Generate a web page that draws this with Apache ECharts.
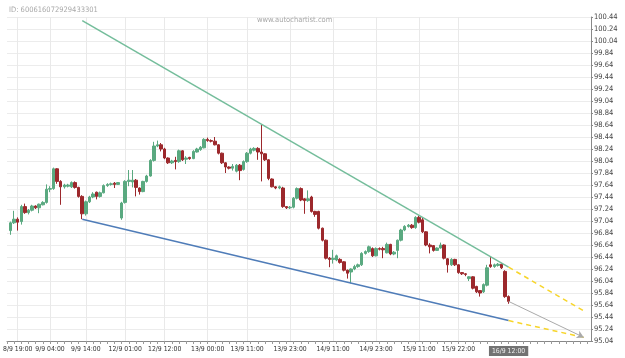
<!DOCTYPE html>
<html>
<head>
<meta charset="utf-8">
<script src="https://cdn.jsdelivr.net/npm/echarts@6/dist/echarts.min.js"></script>
<style>
html, body { margin: 0; padding: 0; background: #fff; }
#chart { width: 625px; height: 358px; }
</style>
</head>
<body>
<div id="chart"></div>
<script>
// trading hours on the axis: [day, first hour, last hour] (month 9, weekend skipped)
var sessions = [[8, 16, 23], [9, 0, 23], [12, 0, 23], [13, 0, 23], [14, 0, 23], [15, 0, 23], [16, 0, 23], [17, 0, 11]];
var firstCandle = '8/9 17:00';

// hourly candles, [open, close, low, high]
var candles = [
  [96.88, 97.01, 96.81, 97.03], [97.01, 97.07, 96.99, 97.21], [97.07, 97.02, 96.88, 97.10], [97.03, 97.28, 96.98, 97.31],
  [97.28, 97.18, 97.16, 97.33], [97.18, 97.22, 97.15, 97.24], [97.22, 97.29, 97.20, 97.31], [97.29, 97.26, 97.24, 97.30],
  [97.26, 97.32, 97.17, 97.33], [97.31, 97.35, 97.30, 97.37], [97.35, 97.57, 97.33, 97.65], [97.57, 97.58, 97.52, 97.62],
  [97.58, 97.91, 97.56, 97.93], [97.91, 97.70, 97.66, 97.92], [97.70, 97.61, 97.31, 97.72], [97.61, 97.64, 97.58, 97.66],
  [97.62, 97.64, 97.60, 97.66], [97.61, 97.68, 97.59, 97.70], [97.68, 97.60, 97.58, 97.70], [97.60, 97.45, 97.43, 97.61],
  [97.45, 97.16, 97.07, 97.47], [97.16, 97.36, 97.13, 97.38], [97.36, 97.44, 97.34, 97.46], [97.44, 97.49, 97.42, 97.52],
  [97.52, 97.45, 97.40, 97.53], [97.45, 97.51, 97.43, 97.53], [97.51, 97.63, 97.50, 97.65], [97.63, 97.65, 97.61, 97.67],
  [97.65, 97.66, 97.63, 97.68], [97.67, 97.65, 97.59, 97.69], [97.65, 97.68, 97.64, 97.69], [97.09, 97.34, 97.06, 97.36],
  [97.35, 97.70, 97.33, 97.72], [97.70, 97.72, 97.62, 97.89], [97.69, 97.72, 97.60, 97.89], [97.72, 97.60, 97.45, 97.74],
  [97.59, 97.53, 97.48, 97.60], [97.53, 97.70, 97.52, 97.71], [97.70, 97.79, 97.68, 97.81], [97.79, 98.05, 97.78, 98.07],
  [98.05, 98.29, 98.03, 98.36], [98.29, 98.31, 98.27, 98.38], [98.31, 98.24, 98.20, 98.34], [98.24, 98.09, 98.07, 98.26],
  [98.09, 98.01, 97.99, 98.10], [98.01, 98.04, 97.99, 98.06], [98.05, 98.03, 97.90, 98.11], [98.03, 98.21, 98.01, 98.23],
  [98.21, 98.06, 98.04, 98.22], [98.07, 98.09, 97.99, 98.12], [98.10, 98.08, 98.06, 98.11], [98.08, 98.20, 98.07, 98.22],
  [98.19, 98.24, 98.18, 98.26], [98.23, 98.27, 98.21, 98.29], [98.26, 98.40, 98.25, 98.42], [98.40, 98.38, 98.36, 98.43],
  [98.38, 98.37, 98.35, 98.40], [98.37, 98.31, 98.30, 98.44], [98.31, 98.17, 98.15, 98.32], [98.17, 98.01, 97.99, 98.18],
  [98.01, 97.94, 97.84, 98.02], [97.94, 97.92, 97.90, 97.95], [97.92, 97.95, 97.88, 97.99], [97.87, 97.97, 97.85, 97.99],
  [97.97, 97.88, 97.72, 97.99], [97.90, 98.03, 97.88, 98.05], [98.03, 98.17, 98.01, 98.19], [98.17, 98.24, 98.15, 98.26],
  [98.22, 98.25, 98.20, 98.27], [98.25, 98.19, 98.06, 98.27], [98.19, 98.16, 97.70, 98.64], [98.16, 98.06, 98.04, 98.17],
  [98.06, 97.75, 97.72, 98.07], [97.74, 97.61, 97.60, 97.75], [97.61, 97.59, 97.57, 97.62], [97.59, 97.61, 97.57, 97.63],
  [97.59, 97.28, 97.26, 97.61], [97.28, 97.26, 97.24, 97.29], [97.26, 97.27, 97.24, 97.29], [97.27, 97.42, 97.25, 97.44],
  [97.42, 97.58, 97.40, 97.60], [97.58, 97.39, 97.37, 97.60], [97.41, 97.38, 97.16, 97.42], [97.38, 97.41, 97.36, 97.55],
  [97.44, 97.20, 97.18, 97.46], [97.20, 97.15, 97.11, 97.21], [97.20, 96.92, 96.90, 97.21], [96.92, 96.72, 96.70, 96.93],
  [96.72, 96.42, 96.40, 96.73], [96.42, 96.40, 96.27, 96.44], [96.40, 96.42, 96.33, 96.56], [96.39, 96.46, 96.37, 96.48],
  [96.40, 96.35, 96.33, 96.42], [96.36, 96.22, 96.20, 96.37], [96.22, 96.17, 96.08, 96.23], [96.19, 96.24, 96.00, 96.25],
  [96.24, 96.28, 96.22, 96.31], [96.28, 96.31, 96.26, 96.33], [96.31, 96.50, 96.29, 96.52], [96.50, 96.53, 96.48, 96.55],
  [96.53, 96.61, 96.51, 96.63], [96.58, 96.46, 96.44, 96.60], [96.46, 96.58, 96.45, 96.60], [96.58, 96.57, 96.55, 96.60],
  [96.58, 96.56, 96.42, 96.61], [96.51, 96.65, 96.50, 96.68], [96.65, 96.49, 96.47, 96.66], [96.49, 96.52, 96.47, 96.54],
  [96.55, 96.72, 96.42, 96.73], [96.72, 96.89, 96.70, 96.91], [96.89, 96.95, 96.87, 96.97], [96.95, 96.97, 96.93, 96.99],
  [96.97, 96.93, 96.91, 96.99], [96.93, 97.10, 96.91, 97.12], [97.10, 97.02, 97.00, 97.13], [97.06, 96.86, 96.84, 97.10],
  [96.86, 96.64, 96.62, 96.87], [96.64, 96.61, 96.50, 96.67], [96.63, 96.55, 96.53, 96.64], [96.55, 96.59, 96.54, 96.60],
  [96.59, 96.64, 96.58, 96.68], [96.64, 96.42, 96.40, 96.65], [96.41, 96.31, 96.18, 96.42], [96.31, 96.40, 96.29, 96.42],
  [96.40, 96.31, 96.29, 96.41], [96.31, 96.18, 96.16, 96.32], [96.18, 96.16, 96.14, 96.19], [96.16, 96.15, 96.12, 96.17],
  [96.08, 96.11, 96.04, 96.12], [96.11, 95.92, 95.90, 96.12], [95.95, 95.86, 95.84, 95.96], [95.88, 95.84, 95.78, 95.89],
  [95.86, 95.98, 95.84, 96.00], [95.97, 96.26, 95.95, 96.31], [96.31, 96.28, 96.26, 96.44], [96.28, 96.31, 96.26, 96.33],
  [96.30, 96.32, 96.28, 96.34], [96.32, 96.26, 96.24, 96.33], [96.20, 95.78, 95.76, 96.22], [95.78, 95.70, 95.66, 95.80]
];

var xTickLabels = ['8/9 19:00', '9/9 04:00', '9/9 14:00', '12/9 01:00', '12/9 12:00', '13/9 00:00', '13/9 11:00',
  '13/9 23:00', '14/9 11:00', '14/9 23:00', '15/9 11:00', '15/9 22:00', '16/9 12:00'];
var nowLabel = '16/9 12:00';

var yTicks = [95.04, 95.24, 95.44, 95.64, 95.84, 96.04, 96.24, 96.44, 96.64, 96.84, 97.04, 97.24, 97.44, 97.64,
  97.84, 98.04, 98.24, 98.44, 98.64, 98.84, 99.04, 99.24, 99.44, 99.64, 99.84, 100.04, 100.24, 100.44];

// pattern lines: [time, price]
var resistance = [['9/9 13:00', 100.38], ['16/9 12:00', 96.27]];
var support = [['9/9 13:00', 97.07], ['16/9 12:00', 95.38]];
var resistanceProj = [['16/9 12:00', 96.27], ['17/9 09:00', 95.54]];
var supportProj = [['16/9 12:00', 95.38], ['17/9 09:00', 95.10]];
var forecast = [['16/9 12:00', 95.70], ['17/9 09:00', 95.10]];

var categories = [];
sessions.forEach(function (s) {
  for (var h = s[1]; h <= s[2]; h++) {
    categories.push(s[0] + '/9 ' + (h < 10 ? '0' : '') + h + ':00');
  }
});

var start = categories.indexOf(firstCandle);
var ohlc = categories.map(function (c, i) {
  var k = i - start;
  return (k >= 0 && k < candles.length) ? candles[k] : ['-', '-', '-', '-'];
});

function seg(pts, color, type, width, arrow) {
  return [
    { coord: pts[0], symbol: 'none' },
    { coord: pts[1], symbol: arrow ? 'arrow' : 'none', symbolSize: arrow ? [6, 7] : 0,
      lineStyle: { color: color, type: type, width: width } }
  ];
}

var font = "'DejaVu Sans Condensed', 'Liberation Sans', sans-serif";
var chart = echarts.init(document.getElementById('chart'));
chart.setOption({
  animation: false,
  backgroundColor: '#fff',
  title: [
    { text: 'ID: 600616072929433301', left: 4, top: 1,
      textStyle: { fontSize: 7.5, fontWeight: 'normal', color: '#a8a8a8', fontFamily: font } },
    { text: 'www.autochartist.com', left: 252, top: 11,
      textStyle: { fontSize: 7.5, fontWeight: 'normal', color: '#a8a8a8', fontFamily: font } }
  ],
  grid: { left: 7, right: 34, top: 17, bottom: 17 },
  xAxis: {
    type: 'category',
    data: categories,
    boundaryGap: false,
    axisLine: { lineStyle: { color: '#888' } },
    axisTick: { interval: 1, length: 3, lineStyle: { color: '#999' } },
    axisLabel: {
      margin: 5,
      fontSize: 6.8,
      fontFamily: font,
      color: '#333',
      hideOverlap: false,
      showMinLabel: true,
      interval: function (i, v) { return xTickLabels.indexOf(v) >= 0; },
      formatter: function (v) { return v === nowLabel ? '{now|' + v + '}' : v; },
      rich: {
        now: { backgroundColor: '#727272', color: '#eee', padding: [2, 3, 1, 3], fontSize: 6.8, fontFamily: font }
      }
    },
    splitLine: {
      show: true,
      interval: function (i, v) { return xTickLabels.indexOf(v) >= 0 && v !== nowLabel; },
      lineStyle: { color: '#e9e9e9' }
    }
  },
  yAxis: {
    type: 'value',
    position: 'right',
    min: 95.04,
    max: 100.44,
    axisLine: { show: true, lineStyle: { color: '#888' } },
    axisTick: { show: true, length: 2, customValues: yTicks, lineStyle: { color: '#888' } },
    axisLabel: {
      margin: 3, fontSize: 7.5, fontFamily: font, color: '#444',
      customValues: yTicks,
      formatter: function (v) { return v.toFixed(2); }
    },
    splitLine: { lineStyle: { color: '#ececec' } }
  },
  series: [{
    type: 'candlestick',
    data: ohlc,
    barWidth: 3,
    itemStyle: {
      color: '#5aa980',
      color0: '#9c282c',
      borderColor: '#5aa980',
      borderColor0: '#9c282c',
      borderWidth: 1
    },
    markLine: {
      silent: true,
      symbol: 'none',
      label: { show: false },
      data: [
        [{ xAxis: nowLabel, symbol: 'none', lineStyle: { color: '#777', type: [2, 2], width: 1 } },
         { xAxis: nowLabel, yAxis: 100.44, symbol: 'none' }],
        seg(resistance, '#74bd9b', 'solid', 1.5, false),
        seg(support, '#4f7cb8', 'solid', 1.5, false),
        seg(resistanceProj, '#f7d52a', [5, 4], 1.5, false),
        seg(supportProj, '#f7d52a', [5, 4], 1.5, false),
        seg(forecast, '#aaaaaa', 'solid', 1, true)
      ]
    }
  }]
});
</script>
</body>
</html>
